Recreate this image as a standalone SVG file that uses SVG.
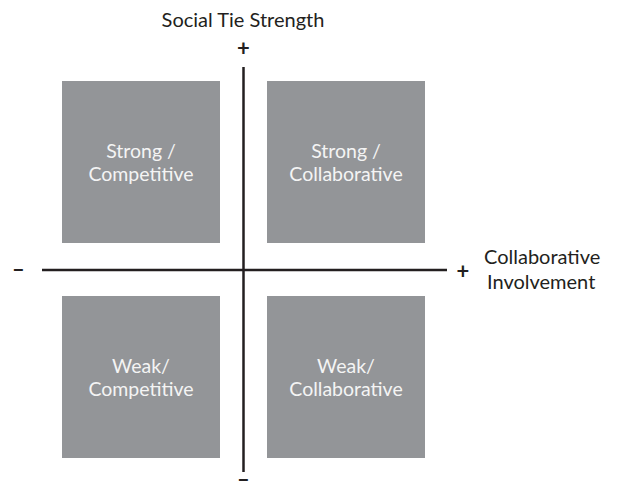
<svg xmlns="http://www.w3.org/2000/svg" width="619" height="491" viewBox="0 0 619 491">
<style>
.box{fill:#939598}
.bl{font-family:Lato,"Liberation Sans",sans-serif;font-size:19.5px;fill:#f4f4f4;text-anchor:middle}
.ax{font-family:Lato,"Liberation Sans",sans-serif;font-size:20px;fill:#231f20}
.sign{font-family:Lato,"Liberation Sans",sans-serif;font-size:22px;font-weight:bold;fill:#231f20;text-anchor:middle}
.axis{stroke:#231f20;stroke-width:2.5;fill:none}
</style>
<rect width="619" height="491" fill="#ffffff"/>
<g id="connectors">
<line class="axis" x1="243.5" y1="67" x2="243.5" y2="472"/>
<line class="axis" x1="42" y1="270" x2="447" y2="270"/>
</g>
<g id="strong-competitive">
<rect class="box" x="62" y="81" width="158" height="162"/>
<text class="bl" x="141" y="158">Strong /</text>
<text class="bl" x="141" y="181">Competitive</text>
</g>
<g id="strong-collaborative">
<rect class="box" x="267" y="81" width="158" height="162"/>
<text class="bl" x="346" y="158">Strong /</text>
<text class="bl" x="346" y="181">Collaborative</text>
</g>
<g id="weak-competitive">
<rect class="box" x="62" y="296" width="158" height="162"/>
<text class="bl" x="141" y="373">Weak/</text>
<text class="bl" x="141" y="396">Competitive</text>
</g>
<g id="weak-collaborative">
<rect class="box" x="267" y="296" width="158" height="162"/>
<text class="bl" x="346" y="373">Weak/</text>
<text class="bl" x="346" y="396">Collaborative</text>
</g>
<g id="y-axis-label">
<text class="ax" x="243" y="27" text-anchor="middle">Social Tie Strength</text>
<text class="sign" x="243.5" y="56">+</text>
<text class="sign" x="243.5" y="487">–</text>
</g>
<g id="x-axis-label">
<text class="sign" x="18.5" y="277">–</text>
<text class="sign" x="463" y="279">+</text>
<text class="ax" x="484" y="264">Collaborative</text>
<text class="ax" x="487" y="289">Involvement</text>
</g>
</svg>
